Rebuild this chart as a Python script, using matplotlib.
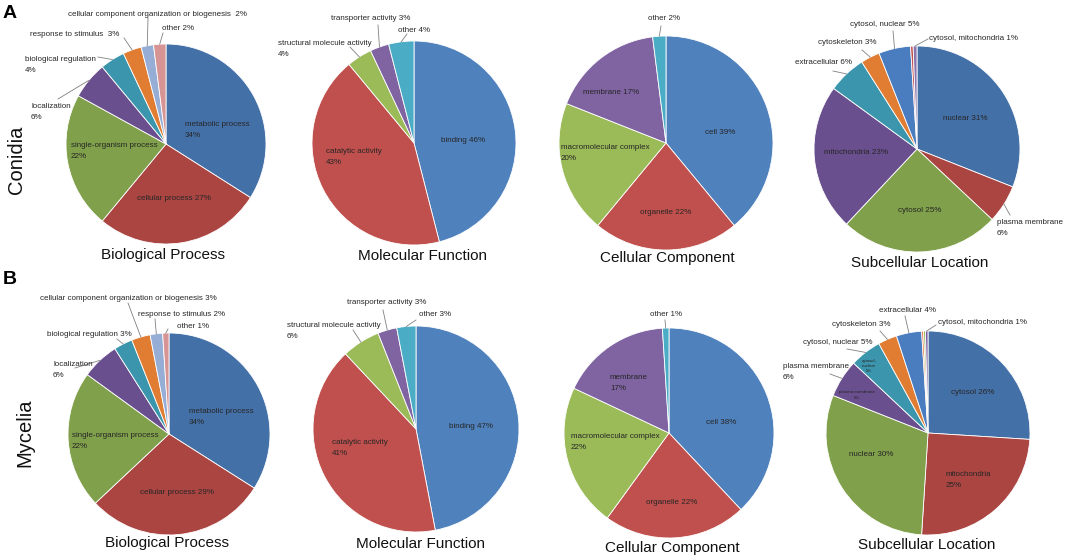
import numpy as np
import matplotlib
matplotlib.use('Agg')
import matplotlib.pyplot as plt

W, H = 1065, 558

# ---- data ----
bp_names_c = ['metabolic process', 'cellular process', 'single-organism process', 'localization',
              'biological regulation', 'response to stimulus',
              'cellular component organization or biogenesis', 'other']
bp_conidia = [34, 27, 22, 6, 4, 3, 2, 2]
bp_names_m = ['metabolic process', 'cellular process', 'single-organism process', 'localization',
              'biological regulation', 'cellular component organization or biogenesis',
              'response to stimulus', 'other']
bp_mycelia = [34, 29, 22, 6, 3, 3, 2, 1]

mf_names = ['binding', 'catalytic activity', 'structural molecule activity',
            'transporter activity', 'other']
mf_conidia = [46, 43, 4, 3, 4]
mf_mycelia = [47, 41, 6, 3, 3]

cc_names = ['cell', 'organelle', 'macromolecular complex', 'membrane', 'other']
cc_conidia = [39, 22, 20, 17, 2]
cc_mycelia = [38, 22, 22, 17, 1]

sl_names_c = ['nuclear', 'plasma membrane', 'cytosol', 'mitochondria', 'extracellular',
              'cytoskeleton', 'cytosol, nuclear', '', 'cytosol, mitochondria']
sl_conidia = [31, 6, 25, 23, 6, 3, 5, 0.4, 0.6]
sl_names_m = ['cytosol', 'mitochondria', 'nuclear', 'plasma membrane', 'cytosol, nuclear',
              'cytoskeleton', 'extracellular', '', '', 'cytosol, mitochondria']
sl_mycelia = [26, 25, 30, 6, 5, 3, 4, 0.3, 0.3, 0.4]

titles = ['Biological Process', 'Molecular Function', 'Cellular Component', 'Subcellular Location']

# ---- styles ----
dark = ['#4470A8', '#AA4542', '#80A04B', '#6A4F8E', '#3B95AC', '#E07D33', '#96AED6', '#D69594']
light = ['#4F81BD', '#C0504D', '#9BBB59', '#8064A2', '#4BACC6']
sl_cols_c = dark[:6] + ['#4A7DBF', '#C0504D', '#8A74AE']
sl_cols_m = dark[:6] + ['#4A7DBF', '#E8703A', '#9BBB59', '#7A5FA5']

# label layout per wedge: (separator, x, y, leader start x, leader start y) in pixels
lay_bp_c = [('\n', 185, 130, None, None), (' ', 137, 199, None, None), ('\n', 71, 151, None, None),
            ('\n', 31, 112, 58, 99), ('\n', 25, 65, 98, 57), ('  ', 30, 35, 124, 38),
            ('  ', 68, 14, 148, 18), (' ', 162, 28, 163, 33)]
lay_mf_c = [(' ', 441, 140, None, None), ('\n', 326, 157, None, None), ('\n', 278, 49, 350, 47),
            (' ', 331, 18, 378, 25), (' ', 398, 30, 407, 34)]
lay_cc_c = [(' ', 705, 133, None, None), (' ', 640, 212, None, None), ('\n', 561, 153, None, None),
            (' ', 583, 92, None, None), (' ', 648, 19, 661, 26)]
lay_sl_c = [(' ', 943, 119, None, None), ('\n', 997, 228, 1010, 215), (' ', 898, 211, None, None),
            (' ', 824, 152, None, None), (' ', 795, 63, 833, 71), (' ', 818, 42, 862, 50),
            (' ', 850, 25, 893, 31), None, (' ', 929, 38, 928, 39)]
lay_bp_m = [('\n', 189, 417, None, None), (' ', 140, 492, None, None), ('\n', 72, 441, None, None),
            ('\n', 53, 370, 75, 368), (' ', 47, 334, 117, 339), (' ', 40, 299, 128, 303),
            (' ', 138, 314, 155, 319), (' ', 177, 326, 168, 329)]
lay_mf_m = [(' ', 449, 427, None, None), ('\n', 332, 448, None, None), ('\n', 287, 331, 353, 330),
            (' ', 347, 303, 383, 310), (' ', 419, 314, 416, 320)]
lay_cc_m = [(' ', 706, 423, None, None), (' ', 646, 502, None, None), ('\n', 571, 442, None, None),
            ('\n', 610, 383, None, None), (' ', 650, 314, 665, 320)]
lay_sl_m = [(' ', 951, 393, None, None), ('\n', 946, 480, None, None), (' ', 849, 454, None, None),
            ('\n', 783, 372, 830, 374), (' ', 803, 343, 847, 349), (' ', 832, 324, 880, 331),
            (' ', 879, 311, 905, 316), None, None, (' ', 938, 323, 936, 325)]

plt.rcParams['font.family'] = ['Liberation Sans', 'DejaVu Sans']

fig = plt.figure(figsize=(W / 100, H / 100), dpi=100)
ax = fig.add_axes([0, 0, 1, 1])


def draw_pie(names, values, colors, cx, cy, r, layout, title, tx, ty):
    wedges, _ = ax.pie(values, colors=colors, center=(cx, H - cy), radius=r, startangle=90,
                       counterclock=False, frame=True,
                       wedgeprops=dict(edgecolor='white', linewidth=0.6))
    for w, name, v, lay in zip(wedges, names, values, layout):
        if lay is None:
            continue
        sep, x, y, lx, ly = lay
        ax.text(x, H - y, f'{name}{sep}{max(1, round(v))}%', ha='left', va='center',
                fontsize=5.8, color='#262626', linespacing=1.9)
        if lx is not None:
            a = np.deg2rad((w.theta1 + w.theta2) / 2)
            ax.plot([lx, cx + r * np.cos(a)], [H - ly, H - cy + r * np.sin(a)],
                    color='#808080', lw=0.6)
    ax.text(tx, H - ty, title, ha='center', va='center', fontsize=11, color='#111111')
    return wedges


draw_pie(bp_names_c, bp_conidia, dark, 166, 144, 100, lay_bp_c, titles[0], 163, 255)
draw_pie(mf_names, mf_conidia, light, 414, 143, 102, lay_mf_c, titles[1], 422, 256)
draw_pie(cc_names, cc_conidia, light, 666, 143, 107, lay_cc_c, titles[2], 667, 258)
draw_pie(sl_names_c, sl_conidia, sl_cols_c, 917, 149, 103, lay_sl_c, titles[3], 920, 263)

draw_pie(bp_names_m, bp_mycelia, dark, 169, 434, 101, lay_bp_m, titles[0], 167, 543)
draw_pie(mf_names, mf_mycelia, light, 416, 429, 103, lay_mf_m, titles[1], 420, 544)
draw_pie(cc_names, cc_mycelia, light, 669, 433, 105, lay_cc_m, titles[2], 672, 548)
draw_pie(sl_names_m, sl_mycelia, sl_cols_m, 928, 433, 102, lay_sl_m, titles[3], 927, 545)

# tiny duplicate labels inside two subcellular wedges of Mycelia
ax.text(857, H - 395, f'{sl_names_m[3]}\n{sl_mycelia[3]}%', ha='center', va='center',
        fontsize=3.2, color='#262626', linespacing=1.4)
ax.text(869, H - 366, 'cytosol,\nnuclear\n%d%%' % sl_mycelia[4], ha='center', va='center',
        fontsize=3.2, color='#262626', linespacing=1.4)

# panel letters and row labels
ax.text(3, H - 13, 'A', ha='left', va='center', fontsize=14, fontweight='bold', color='black')
ax.text(3, H - 279, 'B', ha='left', va='center', fontsize=14, fontweight='bold', color='black')
ax.text(16.5, H - 160, 'Conidia', rotation=90, ha='center', va='center', fontsize=14.5, color='#111111')
ax.text(25, H - 433, 'Mycelia', rotation=90, ha='center', va='center', fontsize=14.5, color='#111111')

ax.set_xlim(0, W)
ax.set_ylim(0, H)
ax.axis('off')
fig.savefig('out.png', dpi=100)
